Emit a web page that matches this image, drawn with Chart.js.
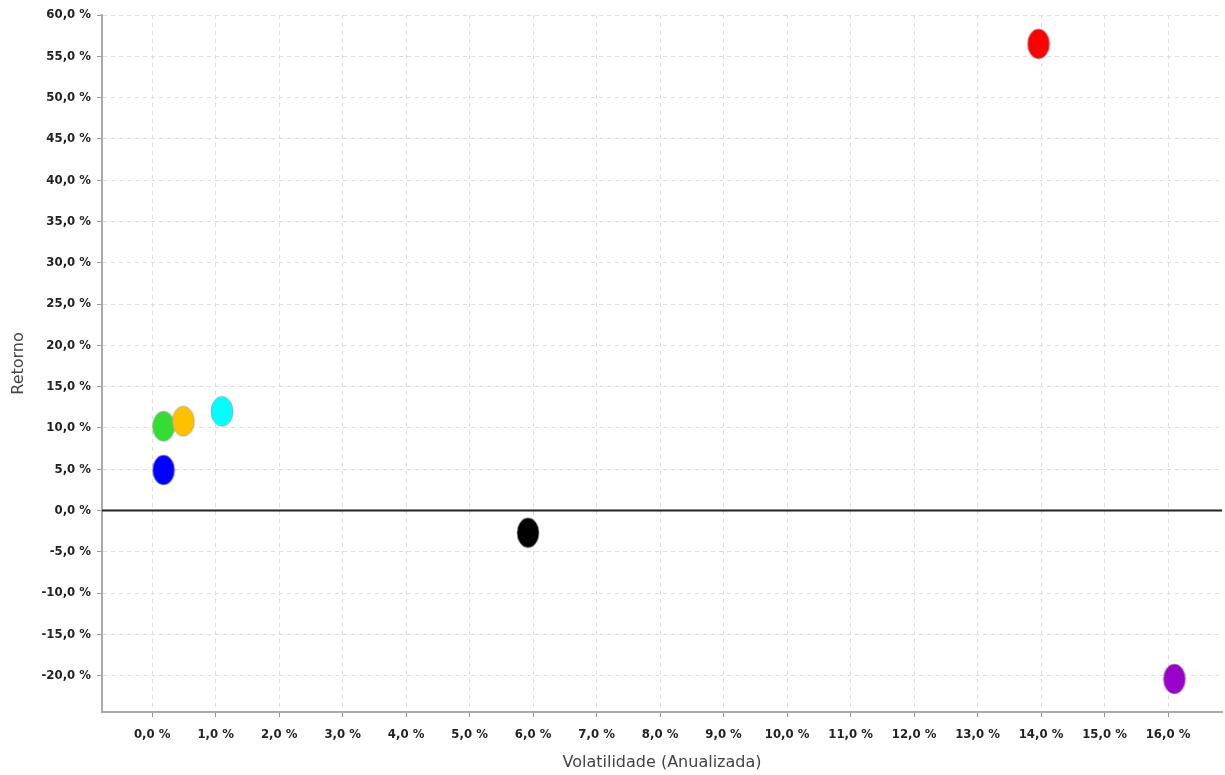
<!DOCTYPE html>
<html>
<head>
<meta charset="utf-8">
<script src="https://cdn.jsdelivr.net/npm/chart.js@4.4.1/dist/chart.umd.min.js"></script>
<style>
  html, body { margin: 0; padding: 0; background: #fff; overflow: hidden; }
  #wrap { width: 1225px; height: 775px; position: relative; }
  canvas { display: block; }
</style>
</head>
<body>
<div id="wrap"><canvas id="grafico"></canvas></div>
<script>
// Dados (em %)
const volatilidade = [13.96, 16.1, 5.92, 0.18, 0.49, 1.10, 0.18];
const retorno = [56.5, -20.4, -2.7, 10.2, 10.8, 12.0, 4.9];
const cores = ['#ff0000', '#9900cc', '#000000', '#33dd33', '#ffc000', '#00ffff', '#0000ff'];

// Ticks dos eixos
const xTicks = [0, 1, 2, 3, 4, 5, 6, 7, 8, 9, 10, 11, 12, 13, 14, 15, 16];
const yTicks = [-20, -15, -10, -5, 0, 5, 10, 15, 20, 25, 30, 35, 40, 45, 50, 55, 60];

// Formato "10,0 %"
function formatPct(v) {
    return v.toFixed(1).replace('.', ',') + ' %';
}

// Ponto em forma de elipse (como no original)
function criarElipse(cor) {
    const c = document.createElement('canvas');
    c.width = 24;
    c.height = 32;
    const ctx = c.getContext('2d');
    ctx.beginPath();
    ctx.ellipse(12, 16, 11, 15, 0, 0, Math.PI * 2);
    ctx.fillStyle = cor;
    ctx.fill();
    ctx.lineWidth = 1;
    ctx.strokeStyle = 'rgba(160,160,160,0.7)';
    ctx.stroke();
    return c;
}

// Linha do zero em preto
const linhaZero = {
    id: 'linhaZero',
    beforeDatasetsDraw(chart) {
        const y = chart.scales.y.getPixelForValue(0);
        const area = chart.chartArea;
        const ctx = chart.ctx;
        ctx.save();
        ctx.strokeStyle = '#222';
        ctx.lineWidth = 2;
        ctx.beginPath();
        ctx.moveTo(area.left, y);
        ctx.lineTo(area.right, y);
        ctx.stroke();
        ctx.restore();
    }
};

const pontos = volatilidade.map((v, i) => ({ x: v, y: retorno[i] }));
const tickFont = { family: 'DejaVu Sans Condensed', size: 13, weight: 'bold' };
const titleFont = { family: 'DejaVu Sans', size: 16 };

new Chart(document.getElementById('grafico'), {
    type: 'scatter',
    data: {
        datasets: [{
            data: pontos,
            pointStyle: cores.map(criarElipse),
            pointRadius: 12,
            pointHoverRadius: 12
        }]
    },
    plugins: [linhaZero],
    options: {
        responsive: true,
        maintainAspectRatio: false,
        animation: false,
        layout: { autoPadding: false, padding: { top: 15, right: 3, left: 0, bottom: 0 } },
        plugins: {
            legend: { display: false },
            tooltip: { enabled: false }
        },
        scales: {
            x: {
                type: 'linear',
                min: -0.79,
                max: 16.85,
                afterBuildTicks: axis => { axis.ticks = xTicks.map(v => ({ value: v })); },
                afterFit: axis => {
                    axis.height = 63;
                    axis.paddingRight = 0;
                    axis.paddingLeft = 0;
                },
                ticks: {
                    callback: v => formatPct(v),
                    font: tickFont,
                    color: '#222',
                    maxRotation: 0,
                    autoSkip: false,
                    padding: 10
                },
                grid: { color: '#dddddd', lineWidth: 1, tickLength: 5, tickColor: '#999' },
                border: { color: '#aaaaaa', width: 2, dash: [4, 4] },
                title: {
                    display: true,
                    text: 'Volatilidade (Anualizada)',
                    font: titleFont,
                    color: '#444',
                    padding: { top: 4, bottom: 3 }
                }
            },
            y: {
                type: 'linear',
                min: -24.4,
                max: 60,
                afterBuildTicks: axis => { axis.ticks = yTicks.map(v => ({ value: v })); },
                afterFit: axis => { axis.width = 102; },
                ticks: {
                    callback: v => formatPct(v),
                    font: tickFont,
                    color: '#222',
                    autoSkip: false,
                    padding: 6
                },
                grid: { color: '#dddddd', lineWidth: 1, tickLength: 5, tickColor: '#999' },
                border: { color: '#aaaaaa', width: 2, dash: [4, 4] },
                title: {
                    display: true,
                    text: 'Retorno',
                    font: titleFont,
                    color: '#444',
                    padding: { top: 9, bottom: 4 }
                }
            }
        }
    }
});
</script>
</body>
</html>
